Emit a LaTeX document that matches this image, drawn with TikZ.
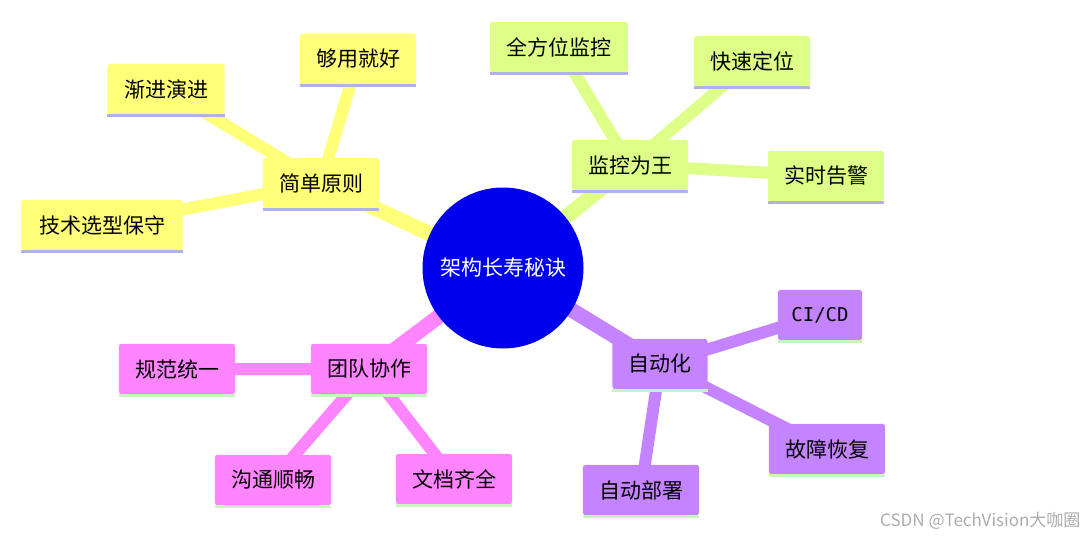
\documentclass[tikz,border=0pt]{standalone}
\usepackage{fontspec}
\newfontfamily\cjk{Noto Sans CJK SC}
\newfontfamily\monof{DejaVu Sans Mono}
\definecolor{yel}{HTML}{FFFF78}
\definecolor{grn}{HTML}{DDFF88}
\definecolor{pur}{HTML}{C484FF}
\definecolor{pnk}{HTML}{FF84FF}
\definecolor{lav}{HTML}{B0B0F0}
\definecolor{lgr}{HTML}{C8F5C0}
\definecolor{cblue}{HTML}{0000EE}
\begin{document}
\begin{tikzpicture}[x=1pt,y=-1pt,
 box/.style={rounded corners=3pt,inner sep=0pt,minimum height=50pt,font=\cjk\fontsize{21}{24}\selectfont},
 main/.style={line width=15pt},
 leaf/.style={line width=12pt}]
\useasboundingbox (0,0) rectangle (1086,538);
\node[circle,minimum size=161pt] (c) at (503,268) {};
\node[box,minimum width=116pt] (a) at (321,183) {};
\node[box,minimum width=116pt] (a1) at (358,59) {};
\node[box,minimum width=117pt] (a2) at (166,89) {};
\node[box,minimum width=161pt] (a3) at (102,225) {};
\node[box,minimum width=116pt] (b) at (630,165) {};
\node[box,minimum width=138pt] (b1) at (559,47) {};
\node[box,minimum width=116pt] (b2) at (752,61) {};
\node[box,minimum width=116pt] (b3) at (826,176) {};
\node[box,minimum width=95pt] (d) at (660,364) {};
\node[box,minimum width=84pt] (d1) at (820,315) {};
\node[box,minimum width=116pt] (d2) at (827,449) {};
\node[box,minimum width=116pt] (d3) at (641,490) {};
\node[box,minimum width=116pt] (e) at (369,369) {};
\node[box,minimum width=116pt] (e1) at (177,369) {};
\node[box,minimum width=116pt] (e2) at (273,480) {};
\node[box,minimum width=116pt] (e3) at (454,479) {};
\draw[main,yel] (c.center) -- (a.center);
\draw[leaf,yel] (a.center) -- (a1.center) (a.center) -- (a2.center) (a.center) -- (a3.center);
\draw[main,grn] (c.center) -- (b.center);
\draw[leaf,grn] (b.center) -- (b1.center) (b.center) -- (b2.center) (b.center) -- (b3.center);
\draw[main,pur] (c.center) -- (d.center);
\draw[leaf,pur] (d.center) -- (d1.center) (d.center) -- (d2.center) (d.center) -- (d3.center);
\draw[main,pnk] (c.center) -- (e.center);
\draw[leaf,pnk] (e.center) -- (e1.center) (e.center) -- (e2.center) (e.center) -- (e3.center);
\foreach \n/\f/\l in {a/yel/lav,a1/yel/lav,a2/yel/lav,a3/yel/lav,b/grn/lav,b1/grn/lav,b2/grn/lav,b3/grn/lav,d/pur/lgr,d1/pur/lgr,d2/pur/lgr,d3/pur/lgr,e/pnk/lgr,e1/pnk/lgr,e2/pnk/lgr,e3/pnk/lgr}{
 \fill[\f,rounded corners=3pt] (\n.north west) rectangle (\n.south east);
 \draw[\l,line width=3pt] ([yshift=-1.5pt]\n.south west) -- ([yshift=-1.5pt]\n.south east);
}
\node[circle,fill=cblue,minimum size=161pt,text=white,font=\cjk\fontsize{21}{24}\selectfont] at (c) {架构长寿秘诀};
\foreach \n/\t in {a/简单原则,a1/够用就好,a2/渐进演进,a3/技术选型保守,b/监控为王,b1/全方位监控,b2/快速定位,b3/实时告警,d/自动化,d2/故障恢复,d3/自动部署,e/团队协作,e1/规范统一,e2/沟通顺畅,e3/文档齐全}
 \node[font=\cjk\fontsize{21}{24}\selectfont] at (\n) {\t};
\node[font=\monof\fontsize{19}{22}\selectfont] at (d1) {CI/CD};
\node[text=gray!65,font=\cjk\fontsize{17}{20}\selectfont,anchor=east] (wm) at (1084,521) {CSDN @TechVision大咖圈};
\end{tikzpicture}
\end{document}
